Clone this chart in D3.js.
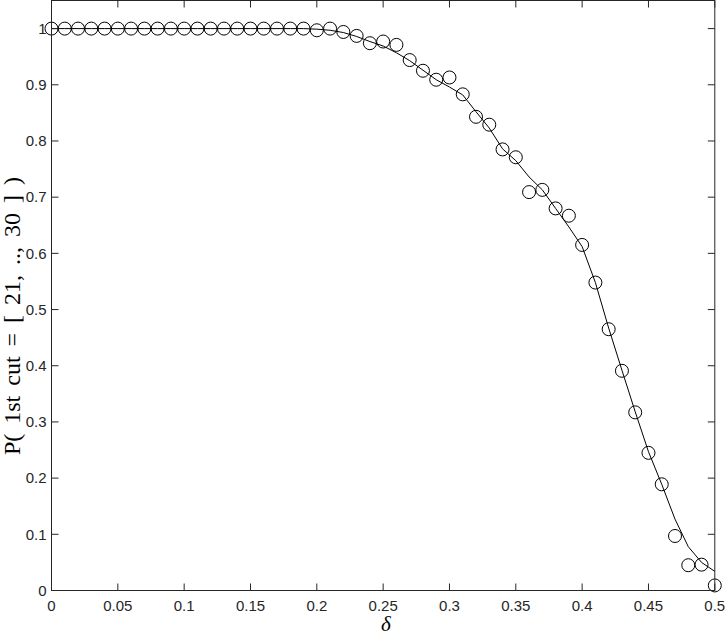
<!DOCTYPE html>
<html><head><meta charset="utf-8">
<script src="https://cdn.jsdelivr.net/npm/d3@7"></script>
<style>body{margin:0;background:#fff}svg{display:block}</style>
</head><body>
<script>
const deltas = d3.range(51).map(i => +(i*0.01).toFixed(2));
const simValues = [1,1,1,1,1,1,1,1,1,1, 1,1,1,1,1,1,1,1,1,1,
  0.997,1.0,0.994,0.987,0.974,0.977,0.971,0.944,0.925,0.909,
  0.913,0.883,0.843,0.829,0.785,0.771,0.709,0.713,0.680,0.667,
  0.615,0.548,0.465,0.391,0.317,0.245,0.189,0.097,0.045,0.046,0.009];
const fitValues = [1,1,1,1,1,1,1,1,1,1, 1,1,1,1,1,1,1,1,1,1,
  0.999,0.997,0.993,0.986,0.977,0.969,0.957,0.943,0.926,0.909,
  0.896,0.882,0.852,0.823,0.786,0.765,0.736,0.713,0.680,0.647,
  0.612,0.548,0.467,0.392,0.318,0.247,0.189,0.127,0.078,0.050,0.034];
const xTicks = [0,0.05,0.1,0.15,0.2,0.25,0.3,0.35,0.4,0.45,0.5];
const yTicks = [0,0.1,0.2,0.3,0.4,0.5,0.6,0.7,0.8,0.9,1];
const xTickLabels = ["0","0.05","0.1","0.15","0.2","0.25","0.3","0.35","0.4","0.45","0.5"];
const yTickLabels = ["0","0.1","0.2","0.3","0.4","0.5","0.6","0.7","0.8","0.9","1"];
const yLabel = "P( 1st cut = [ 21, .., 30 ] )";
const xLabel = "δ";

const W = 727, H = 637;
const x = d3.scaleLinear().domain([0,0.5]).range([51.5,714.8]);
const y = d3.scaleLinear().domain([0,1.05]).range([590.5,0.5]);
const axisColor = "#262626";
const tl = 7;

const svg = d3.select("body").append("svg").attr("width",W).attr("height",H);

// data
const line = d3.line().x((d,i)=>x(deltas[i])).y(d=>y(d));
svg.append("path").datum(fitValues).attr("d",line)
  .attr("fill","none").attr("stroke","#000").attr("stroke-width",1);
svg.append("g").selectAll("circle").data(simValues).join("circle")
  .attr("cx",(d,i)=>x(deltas[i])).attr("cy",d=>y(d)).attr("r",6.5)
  .attr("fill","none").attr("stroke","#000").attr("stroke-width",1);

// axes box
const x0 = x.range()[0], x1 = x.range()[1], y0 = y.range()[0], y1 = y.range()[1];
const g = svg.append("g").attr("stroke",axisColor).attr("stroke-width",1).attr("fill","none");
g.append("rect").attr("x",x0).attr("y",y1).attr("width",x1-x0).attr("height",y0-y1);
xTicks.forEach(t=>{
  g.append("line").attr("x1",x(t)).attr("x2",x(t)).attr("y1",y0).attr("y2",y0-tl);
  g.append("line").attr("x1",x(t)).attr("x2",x(t)).attr("y1",y1).attr("y2",y1+tl);
});
yTicks.forEach(t=>{
  g.append("line").attr("x1",x0).attr("x2",x0+tl).attr("y1",y(t)).attr("y2",y(t));
  g.append("line").attr("x1",x1).attr("x2",x1-tl).attr("y1",y(t)).attr("y2",y(t));
});

const lab = svg.append("g").attr("font-family","'Liberation Sans', Arial, sans-serif")
  .attr("font-size",15).attr("fill",axisColor);
lab.selectAll("text.xt").data(xTicks).join("text").attr("class","xt")
  .attr("x",d=>x(d)).attr("y",611).attr("text-anchor","middle")
  .text((d,i)=>xTickLabels[i]);
lab.selectAll("text.yt").data(yTicks).join("text").attr("class","yt")
  .attr("x",x0-5).attr("y",d=>y(d)+5.3).attr("text-anchor","end")
  .text((d,i)=>yTickLabels[i]);

svg.append("text").attr("x",386).attr("y",631).attr("text-anchor","middle")
  .attr("font-family","'Liberation Serif', 'Times New Roman', serif").attr("font-style","italic")
  .attr("font-size",21).attr("fill","#000").text(xLabel);

svg.append("text").attr("transform","translate(20,316) rotate(-90)")
  .attr("text-anchor","middle")
  .attr("font-family","'Liberation Serif', 'Times New Roman', serif")
  .attr("font-size",24).attr("word-spacing","4px").attr("fill","#000").text(yLabel);
</script>
</body></html>
